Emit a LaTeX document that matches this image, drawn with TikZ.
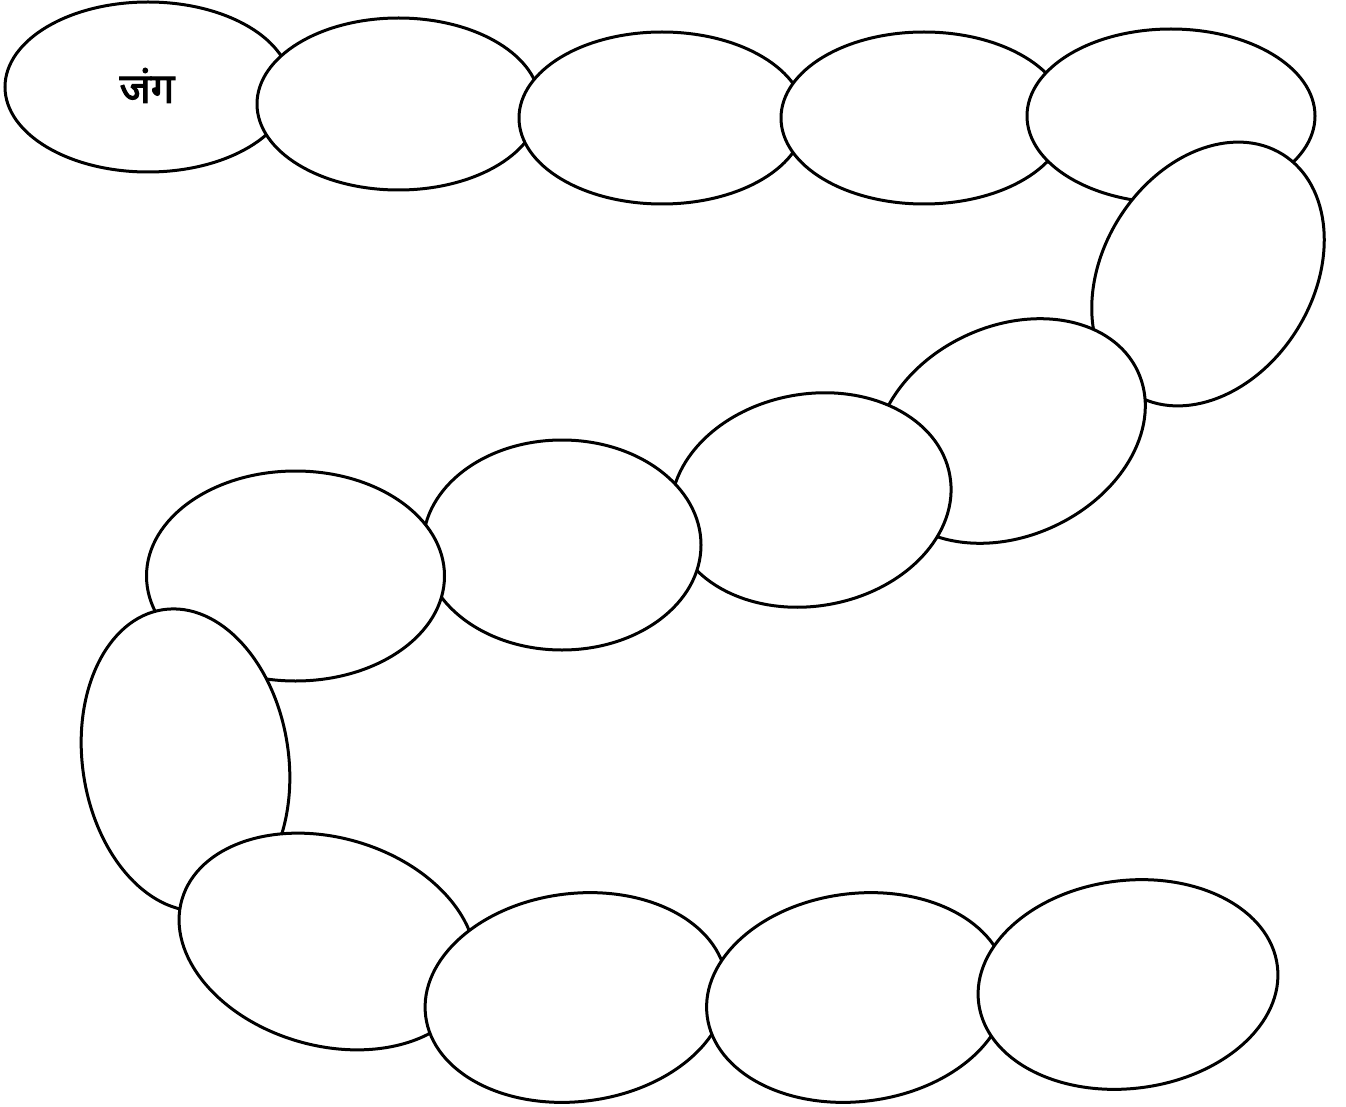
\documentclass[tikz,border=0pt]{standalone}
\usepackage{fontspec}
\newfontfamily\devbold[Script=Devanagari,FakeBold=2.5]{Noto Sans}
\usetikzlibrary{shapes.geometric}
\tikzset{
  blob/.style={ellipse, draw=black, fill=white, line width=3pt, inner sep=0pt, outer sep=0pt},
  label/.style={font=\devbold\fontsize{42}{46}\selectfont, inner sep=0pt},
}
\begin{document}
\begin{tikzpicture}[x=1pt,y=-1pt]
\useasboundingbox (0,0) rectangle (1346,1107);
\node[blob, minimum width=286pt, minimum height=170pt] (e1) at (148,87) {};
\node[label] (t1) at (147,85.5) {जंग};
\node[blob, minimum width=283pt, minimum height=172pt] (e2) at (398.5,104) {};
\node[blob, minimum width=286pt, minimum height=172pt] (e3) at (662,118) {};
\node[blob, minimum width=286pt, minimum height=172pt] (e4) at (924,118) {};
\node[blob, minimum width=288pt, minimum height=174pt] (e5) at (1171,116) {};
\node[blob, minimum width=282pt, minimum height=210pt, rotate=58] (e6) at (1208,274) {};
\node[blob, minimum width=282pt, minimum height=210pt, rotate=25] (e7) at (1010,431) {};
\node[blob, minimum width=282pt, minimum height=212pt, rotate=10] (e8) at (811,500) {};
\node[blob, minimum width=278pt, minimum height=210pt] (e9) at (562,545) {};
\node[blob, minimum width=298pt, minimum height=210pt] (e10) at (295.5,576) {};
\node[blob, minimum width=206pt, minimum height=304pt, rotate=8.5] (e11) at (185.5,760) {};
\node[blob, minimum width=303pt, minimum height=208pt, rotate=-16] (e12) at (327.5,941.5) {};
\node[blob, minimum width=303pt, minimum height=208pt, rotate=7] (e13) at (576,997.5) {};
\node[blob, minimum width=302pt, minimum height=208pt, rotate=7] (e14) at (857,997.5) {};
\node[blob, minimum width=301pt, minimum height=208pt, rotate=7] (e15) at (1128,984.5) {};
\end{tikzpicture}
\end{document}
